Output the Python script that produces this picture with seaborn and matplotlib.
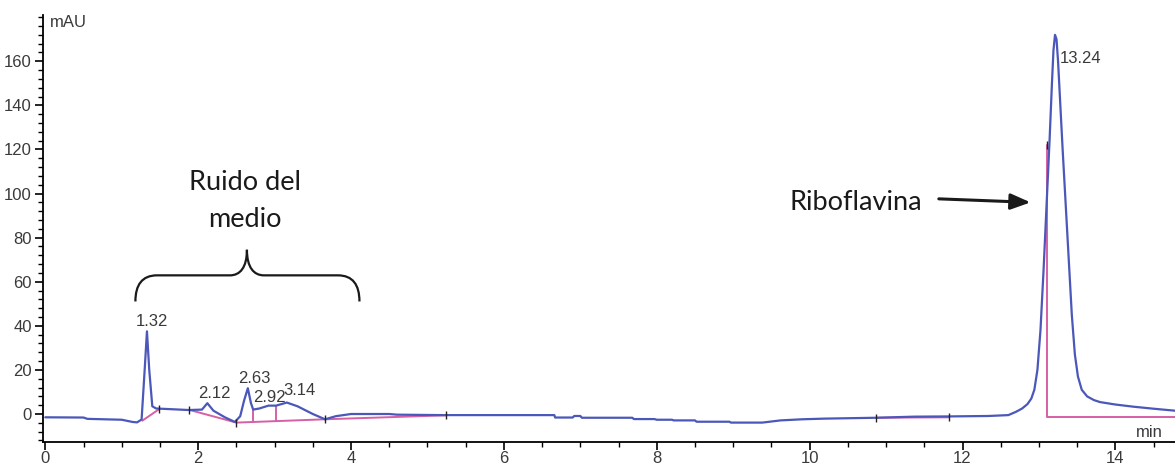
import matplotlib
matplotlib.use("Agg")
import numpy as np
import pandas as pd
import seaborn as sns
import matplotlib.pyplot as plt
from matplotlib.path import Path
from matplotlib.patches import PathPatch
from matplotlib.ticker import MultipleLocator

# ---------------- data ----------------
time_min = [0.00, 0.50, 0.55, 1.00, 1.14, 1.20, 1.26, 1.30, 1.33, 1.36, 1.40, 1.45,
            1.88, 2.05, 2.12, 2.20, 2.35, 2.48, 2.55, 2.60, 2.65, 2.69, 2.72, 2.80,
            2.92, 3.02, 3.16, 3.30, 3.50, 3.66, 3.80, 4.00, 4.50, 4.60, 5.20, 6.66,
            6.67, 6.90, 6.92, 7.00, 7.02, 7.68, 7.70, 7.97, 8.00, 8.20, 8.22, 8.50,
            8.52, 8.95, 8.97, 9.38, 9.62, 9.90, 10.19, 10.87, 11.37, 11.82, 12.34,
            12.60, 12.70, 12.78, 12.85, 12.90, 12.94, 12.98, 13.02, 13.06, 13.10,
            13.14, 13.17, 13.19, 13.21, 13.23, 13.25, 13.28, 13.31, 13.35, 13.39,
            13.43, 13.47, 13.51, 13.56, 13.63, 13.72, 13.80, 14.00, 14.24, 14.50,
            14.78]
signal_mau = [-1.5, -1.6, -2.2, -2.6, -3.6, -3.8, -2.5, 20.0, 37.5, 20.0, 3.5, 2.5,
              1.8, 2.0, 4.9, 1.5, -1.5, -3.6, -1.0, 6.0, 11.7, 5.0, 2.0, 2.5,
              3.8, 3.8, 5.2, 3.5, 0.0, -2.4, -1.0, 0.0, 0.0, -0.3, -0.5, -0.5,
              -1.6, -1.6, -0.9, -0.9, -1.7, -1.7, -2.3, -2.3, -2.6, -2.6, -2.9, -2.9,
              -3.5, -3.5, -3.9, -3.9, -2.9, -2.4, -2.1, -1.7, -1.2, -1.1, -0.9,
              -0.5, 1.0, 2.5, 4.5, 7.0, 11.0, 20.0, 38.0, 65.0, 95.0,
              125.0, 150.0, 165.0, 172.0, 170.0, 160.0, 140.0, 120.0, 95.0, 70.0,
              45.0, 27.0, 17.0, 11.0, 8.0, 6.3, 5.4, 4.3, 3.3, 2.4,
              1.5]

# integration baselines (pink) : segment id, time, mAU
base_seg = [1, 1, 2, 2, 3, 3, 4, 4, 5, 5, 6, 6, 6, 7, 7, 8, 8]
base_t = [1.27, 1.49, 1.88, 2.50, 2.50, 3.66, 3.66, 5.24, 10.87, 11.82,
          13.11, 13.11, 14.78, 2.72, 2.72, 3.02, 3.02]
base_y = [-3.0, 2.2, 1.9, -3.9, -3.9, -2.4, -2.4, -0.6, -1.7, -1.5,
          122.0, -1.2, -1.2, 2.0, -3.6, 3.8, -3.2]

# integration event marks (small black ticks)
event_t = [1.49, 1.88, 2.50, 3.66, 5.24, 10.87, 11.82, 13.11]
event_y = [2.2, 1.9, -3.9, -2.4, -0.6, -1.7, -1.5, 122.0]

# retention time labels
peak_labels = ["1.32", "2.12", "2.63", "2.92", "3.14", "13.24"]
peak_label_t = [1.40, 2.21, 2.73, 2.93, 3.32, 13.54]
peak_label_y = [41.8, 9.5, 15.9, 7.3, 10.5, 161.4]

y_major = [0, 20, 40, 60, 80, 100, 120, 140, 160]
x_major = [0, 2, 4, 6, 8, 10, 12, 14]

# ---------------- styling ----------------
sns.set_theme(style="ticks")
plt.rcParams["font.family"] = ["Liberation Sans Narrow", "Liberation Sans", "DejaVu Sans"]

BLUE = "#4b57b9"
PINK = "#d660a4"
GREY = "#3a3a3a"

fig = plt.figure(figsize=(11.75, 4.66), dpi=100)
ax = fig.add_axes([43 / 1175, 24 / 466, (1175 - 43) / 1175, (442 - 15) / 466])

trace = pd.DataFrame({"t": time_min, "mAU": signal_mau})
base = pd.DataFrame({"seg": base_seg, "t": base_t, "mAU": base_y})
events = pd.DataFrame({"t": event_t, "mAU": event_y})

sns.lineplot(data=base, x="t", y="mAU", units="seg", estimator=None, sort=False,
             color=PINK, lw=1.4, ax=ax, zorder=2)
sns.lineplot(data=trace, x="t", y="mAU", estimator=None, sort=False,
             color=BLUE, lw=1.6, ax=ax, zorder=3)
sns.scatterplot(data=events, x="t", y="mAU", marker="|", s=40, color="#222222",
                linewidth=1.0, ax=ax, zorder=4)

ax.set_xlim(-0.03, 14.78)
ax.set_ylim(-12.7, 181)
ax.set_xlabel("")
ax.set_ylabel("")
sns.despine(ax=ax)
for s in ("left", "bottom"):
    ax.spines[s].set_color("black")
    ax.spines[s].set_linewidth(1.3)

ax.set_xticks(x_major)
ax.set_xticklabels([str(v) for v in x_major])
ax.set_yticks(y_major)
ax.set_yticklabels([str(v) for v in y_major])
ax.xaxis.set_minor_locator(MultipleLocator(0.5))
ax.yaxis.set_minor_locator(MultipleLocator(4))
ax.tick_params(which="major", direction="out", length=6, width=1.2, color="black",
               labelsize=12, labelcolor=GREY, pad=2)
ax.tick_params(axis="x", which="major", pad=0.5)
ax.tick_params(which="minor", direction="out", length=3.5, width=1.0, color="black")

ax.text(0.06, 181, "mAU", ha="left", va="top", fontsize=12, color=GREY)
ax.text(14.44, -8.6, "min", ha="center", va="center", fontsize=12, color=GREY)

for lab, tx, ty in zip(peak_labels, peak_label_t, peak_label_y):
    ax.text(tx, ty, lab, ha="center", va="center", fontsize=12, color=GREY, zorder=5)

# annotations
ann_font = ["Lato", "DejaVu Sans"]
ax.text(2.61, 101.5, "Ruido del", ha="center", va="baseline", fontsize=19.5,
        color="#1a1a1a", family=ann_font)
ax.text(2.61, 84.7, "medio", ha="center", va="baseline", fontsize=19.5,
        color="#1a1a1a", family=ann_font)
ax.text(10.60, 92.4, "Riboflavina", ha="center", va="baseline", fontsize=19.5,
        color="#1a1a1a", family=ann_font)
ax.annotate("", xy=(12.89, 96.0), xytext=(11.69, 97.6),
            arrowprops=dict(arrowstyle="-|>,head_length=1.0,head_width=0.4",
                            color="#1a1a1a", lw=2.2, shrinkA=0, shrinkB=0))

# curly brace
brace_x = [1.179, 1.179, 1.267, 1.463, 2.416, 2.547, 2.638, 2.638,
           2.638, 2.730, 2.860, 3.827, 4.023, 4.110, 4.110]
brace_y = [51.05, 58.6, 62.9, 62.9, 62.9, 62.9, 66.4, 74.5,
           66.4, 62.9, 62.9, 62.9, 62.9, 58.6, 51.05]
codes = [Path.MOVETO, Path.CURVE4, Path.CURVE4, Path.CURVE4, Path.LINETO,
         Path.CURVE4, Path.CURVE4, Path.CURVE4,
         Path.CURVE4, Path.CURVE4, Path.CURVE4, Path.LINETO,
         Path.CURVE4, Path.CURVE4, Path.CURVE4]
brace = Path(np.column_stack([brace_x, brace_y]), codes)
ax.add_patch(PathPatch(brace, facecolor="none", edgecolor="#1a1a1a", lw=1.6))

fig.savefig("out.png", dpi=100)
